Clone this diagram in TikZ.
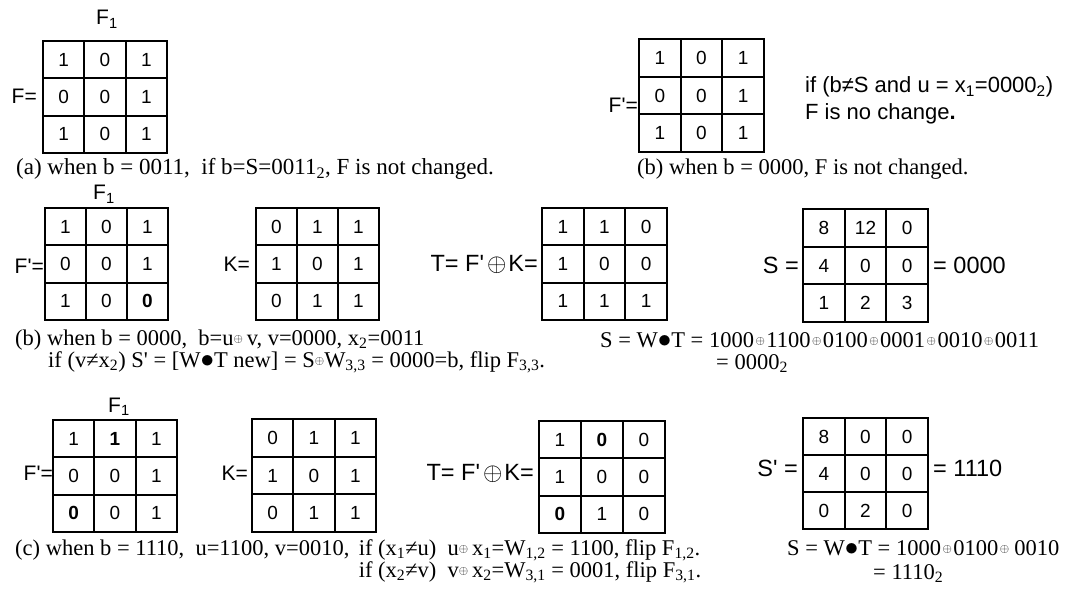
\documentclass[tikz,border=0pt]{standalone}
\usepackage{fontspec}
\usepackage{graphicx}
\setmainfont{Liberation Serif}
\setsansfont{Liberation Sans}
\newcommand{\smox}{\raisebox{2.5pt}{\fontsize{13}{13}\selectfont$\oplus$}}
\newcommand{\spox}{\hspace{1.5pt}\smox\hspace{1.5pt}}
\newcommand{\wdot}{\scalebox{1.3}{$\bullet$}}
\newcommand{\qq}{\textquotesingle}
\tikzset{
  gridline/.style={line width=1.8pt, black},
  cell/.style={font=\sffamily\fontsize{19}{19}\selectfont, inner sep=0pt},
  lab/.style={font=\sffamily\fontsize{21}{21}\selectfont, inner sep=0pt},
  biglab/.style={font=\sffamily\fontsize{23.5}{23.5}\selectfont, inner sep=0pt},
  captext/.style={font=\rmfamily\fontsize{22.5}{22.5}\selectfont, inner sep=0pt, anchor=base west},
  note/.style={font=\sffamily\fontsize{22}{22}\selectfont, inner sep=0pt, anchor=base west},
}
\newcommand{\cellgrid}[6]{%
  \pgfmathsetmacro\gw{(#4-#2)/3}%
  \pgfmathsetmacro\gh{(#5-#3)/3}%
  \draw[gridline] (#2,#3) rectangle (#4,#5);
  \foreach \ii in {1,2}{%
    \draw[gridline] ({#2+\ii*\gw},#3) -- ({#2+\ii*\gw},#5);
    \draw[gridline] (#2,{#3+\ii*\gh}) -- (#4,{#3+\ii*\gh});
  }
  \foreach \val [count=\kk from 0] in {#6}{%
    \pgfmathtruncatemacro\rr{div(\kk,3)}%
    \pgfmathtruncatemacro\cc{mod(\kk,3)}%
    \node[cell] (#1-\rr\cc) at ({#2+(\cc+0.5)*\gw},{#3+(\rr+0.5)*\gh}) {\val};
  }
}
\begin{document}
\begin{tikzpicture}[x=1pt,y=-1pt]
\useasboundingbox (0,0) rectangle (1069,599);
% ---------- row 1 (a)
\cellgrid{ga}{43}{41}{167}{153}{1,0,1,0,0,1,1,0,1}
\node[lab, anchor=base west] (fa1) at (96,25) {F\textsubscript{1}};
\node[lab, anchor=east] (faeq) at (37,96) {F=};
\node[captext, font=\rmfamily\fontsize{23}{23}\selectfont] (capa) at (16,175) {(a) when b = 0011,\ \ if b=S=0011\textsubscript{2}, F is not changed.};
% ---------- row 1 (b)
\cellgrid{gb}{639}{39}{764}{152}{1,0,1,0,0,1,1,0,1}
\node[lab, anchor=east] (fbeq) at (638,105) {F\qq=};
\node[note] (nb1) at (805,93) {if (b≠S and u = x\textsubscript{1}=0000\textsubscript{2})};
\node[note] (nb2) at (805,120) {F is no change\textbf{.}};
\node[captext] (capb) at (637,175) {(b) when b = 0000, F is not changed.};
% ---------- row 2
\cellgrid{gc}{45}{208}{168}{320}{1,0,1,0,0,1,1,0,{\textbf{0}}}
\node[lab, anchor=base west] (fc1) at (93,200) {F\textsubscript{1}};
\node[lab, anchor=east] (fceq) at (44,266) {F\qq=};
\cellgrid{kc}{256}{208}{379}{320}{0,1,1,1,0,1,0,1,1}
\node[lab, anchor=east] (kceq) at (250,264) {K=};
\cellgrid{tc}{542}{208}{667}{320}{1,1,0,1,0,0,1,1,1}
\node[biglab, anchor=east] (tceq) at (538,264) {T= F\qq\hspace{3pt}$\oplus$\hspace{2pt}K=};
\cellgrid{sc}{803}{209}{928}{322}{8,12,0,4,0,0,1,2,3}
\node[biglab, anchor=east] (sceq) at (799,265) {S =};
\node[biglab, anchor=west] (scres) at (933,265) {= 0000};
\node[captext] (capc1) at (15,345) {(b) when b = 0000,\ \ b=u\smox\,v, v=0000, x\textsubscript{2}=0011};
\node[captext] (capc2) at (48,367) {if (v≠x\textsubscript{2}) S\qq\ = [W\wdot T new] = S\smox W\textsubscript{3,3} = 0000=b, flip F\textsubscript{3,3}.};
\node[captext] (swc) at (600,347) {S = W\wdot T = 1000\spox1100\spox0100\spox0001\spox0010\spox0011};
\node[captext] (swc2) at (716,369) {= 0000\textsubscript{2}};
% ---------- row 3
\cellgrid{gd}{53}{420}{177}{532}{1,{\textbf{1}},1,0,0,1,{\textbf{0}},0,1}
\node[lab, anchor=base west] (fd1) at (108,412) {F\textsubscript{1}};
\node[lab, anchor=east] (fdeq) at (53,473) {F\qq=};
\cellgrid{kd}{252}{419}{376}{532}{0,1,1,1,0,1,0,1,1}
\node[lab, anchor=east] (kdeq) at (248,473) {K=};
\cellgrid{td}{539}{421}{665}{533}{1,{\textbf{0}},0,1,0,0,{\textbf{0}},1,0}
\node[biglab, anchor=east] (tdeq) at (534,473) {T= F\qq\hspace{3pt}$\oplus$\hspace{2pt}K=};
\cellgrid{sd}{803}{418}{928}{529}{8,0,0,4,0,0,0,2,0}
\node[biglab, anchor=east] (sdeq) at (798,468) {S\qq\ =};
\node[biglab, anchor=west] (sdres) at (933,468) {= 1110};
\node[captext] (capd1) at (15,555) {(c) when b = 1110,\ \ u=1100, v=0010,};
\node[captext] (capd1b) at ([xshift=9pt]capd1.base east) {if (x\textsubscript{1}≠u)\ \ u\smox\,x\textsubscript{1}=W\textsubscript{1,2} = 1100, flip F\textsubscript{1,2}.};
\node[captext] (capd2) at ([yshift=-22pt]capd1b.base west) {if (x\textsubscript{2}≠v)\ \ v\smox\,x\textsubscript{2}=W\textsubscript{3,1} = 0001, flip F\textsubscript{3,1}.};
\node[captext] (swd) at (787,555) {S = W\wdot T = 1000\spox0100\spox\,0010};
\node[captext] (swd2) at (873,579) {= 1110\textsubscript{2}};
\end{tikzpicture}
\end{document}
